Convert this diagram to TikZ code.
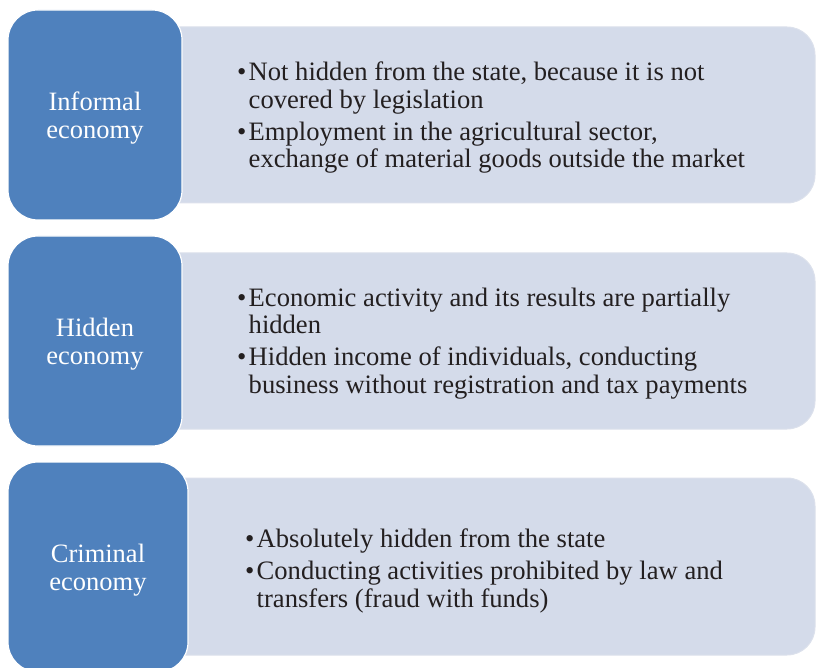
\documentclass[tikz,border=0pt]{standalone}
\usepackage{fontspec}
\setmainfont{Liberation Serif}
\definecolor{bluefill}{HTML}{4F81BD}
\definecolor{lightfill}{HTML}{D4DBEA}
\definecolor{lightedge}{HTML}{DCE1EC}
\definecolor{txt}{HTML}{231F20}
\newcommand{\bul}{\makebox[11.5pt][l]{\textbullet}}
\newcommand{\hng}{\hspace*{11.5pt}}
\begin{document}
\begin{tikzpicture}[x=1pt,y=-1pt,
  cat/.style={draw=white, line width=1.2pt, fill=bluefill, rounded corners=30pt, inner sep=0},
  catlabel/.style={text=white, font=\fontsize{26.5}{28}\selectfont, align=center, inner sep=0},
  panel/.style={draw=lightedge, line width=1pt, fill=lightfill, rounded corners=28pt, inner sep=0},
  items/.style={anchor=west, align=left, inner sep=0, text=txt, font=\fontsize{26.6}{27.5}\selectfont}]
\useasboundingbox (0,0) rectangle (816,668);
\clip (0,0) rectangle (816,668);
% row 1
\node[panel, minimum width=665pt, minimum height=176pt] (p1) at (482.5,115) {};
\node[cat, minimum width=174pt, minimum height=210pt] (c1) at (95,115) {};
\node[catlabel] (l1) at (95,118) {Informal\\economy};
\node[items] (t1) at (237,118) {\bul Not hidden from the state, because it is not\\
\hng covered by legislation\\[4.5pt]
\bul Employment in the agricultural sector,\\
\hng exchange of material goods outside the market};
% row 2
\node[panel, minimum width=665pt, minimum height=176pt] (p2) at (482.5,341) {};
\node[cat, minimum width=174pt, minimum height=210pt] (c2) at (95,341) {};
\node[catlabel] (l2) at (95,344) {Hidden\\economy};
\node[items] (t2) at (237,343.5) {\bul Economic activity and its results are partially\\
\hng hidden\\[4.5pt]
\bul Hidden income of individuals, conducting\\
\hng business without registration and tax payments};
% row 3
\node[panel, minimum width=665pt, minimum height=177pt] (p3) at (482.5,566.5) {};
\node[cat, minimum width=180pt, minimum height=210pt] (c3) at (98,567) {};
\node[catlabel] (l3) at (98,570) {Criminal\\economy};
\node[items] (t3) at (245,571) {\bul Absolutely hidden from the state\\[4.5pt]
\bul Conducting activities prohibited by law and\\
\hng transfers (fraud with funds)};
\end{tikzpicture}
\end{document}
